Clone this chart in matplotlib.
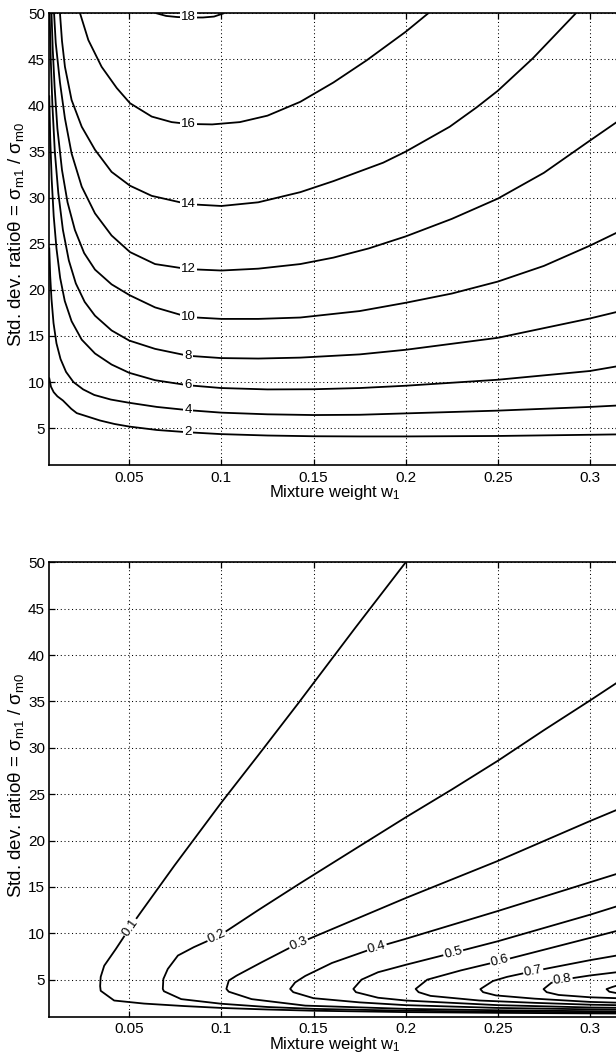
import numpy as np
import matplotlib
matplotlib.use('Agg')
import matplotlib.pyplot as plt

plt.rcParams['font.family'] = ['Liberation Sans', 'DejaVu Sans']
plt.rcParams['mathtext.fontset'] = 'custom'
plt.rcParams['mathtext.rm'] = 'Liberation Sans'
plt.rcParams['mathtext.it'] = 'Liberation Sans:italic'

# ejes
w_min, w_max = 0.0066, 0.3168
theta_min, theta_max = 1, 50
x_ticks = [0.05, 0.1, 0.15, 0.2, 0.25, 0.3]
x_tick_labels = ['0.05', '0.1', '0.15', '0.2', '0.25', '0.3']
y_ticks = [5, 10, 15, 20, 25, 30, 35, 40, 45, 50]
y_tick_labels = ['5', '10', '15', '20', '25', '30', '35', '40', '45', '50']

# grafica superior: curvas de nivel 2..18
top_c2_w = [0.0066, 0.0075, 0.009, 0.011, 0.014, 0.0185, 0.0215, 0.0267, 0.0341, 0.042, 0.05, 0.065, 0.082, 0.1, 0.125, 0.15, 0.175, 0.2, 0.25, 0.3, 0.3145]
top_c2_th = [10.4, 9.5, 8.9, 8.45, 8.0, 7.1, 6.63, 6.3, 5.83, 5.45, 5.17, 4.8, 4.55, 4.35, 4.2, 4.12, 4.1, 4.1, 4.15, 4.28, 4.32]
top_c4_w = [0.0066, 0.0071, 0.0078, 0.0089, 0.0105, 0.0127, 0.0157, 0.0197, 0.025, 0.031, 0.04, 0.05, 0.065, 0.082, 0.1, 0.125, 0.15, 0.175, 0.2, 0.25, 0.3, 0.3145]
top_c4_th = [24.5, 21.5, 19.0, 16.4, 14.2, 12.5, 11.1, 10.0, 9.2, 8.6, 8.1, 7.75, 7.3, 6.95, 6.68, 6.5, 6.42, 6.45, 6.6, 6.9, 7.3, 7.45]
top_c6_w = [0.0066, 0.0071, 0.0079, 0.009, 0.0105, 0.0125, 0.015, 0.0187, 0.0242, 0.0314, 0.0404, 0.05, 0.064, 0.082, 0.1, 0.125, 0.15, 0.175, 0.2, 0.25, 0.3, 0.3145]
top_c6_th = [41.0, 36.5, 32.0, 28.0, 24.5, 21.3, 18.8, 16.6, 14.6, 13.1, 11.9, 11.0, 10.2, 9.65, 9.35, 9.2, 9.22, 9.35, 9.6, 10.25, 11.2, 11.7]
top_c8_w = [0.0068, 0.0074, 0.0083, 0.0096, 0.0115, 0.014, 0.0172, 0.021, 0.0258, 0.0314, 0.0404, 0.05, 0.064, 0.082, 0.1, 0.12, 0.1428, 0.175, 0.2, 0.25, 0.3, 0.3145]
top_c8_th = [50, 45, 40, 35, 30.5, 26.5, 23.2, 20.7, 18.7, 17.2, 15.6, 14.5, 13.6, 12.85, 12.6, 12.55, 12.65, 13.0, 13.5, 14.8, 16.9, 17.6]
top_c10_w = [0.0078, 0.0085, 0.0095, 0.011, 0.0135, 0.0165, 0.0205, 0.0255, 0.0314, 0.0404, 0.0504, 0.064, 0.082, 0.1, 0.12, 0.1428, 0.175, 0.2, 0.225, 0.25, 0.275, 0.3, 0.3145]
top_c10_th = [50, 46, 42, 37.5, 33.0, 29.5, 26.5, 24.0, 22.2, 20.6, 19.4, 18.1, 17.05, 16.85, 16.85, 17.0, 17.7, 18.6, 19.6, 20.9, 22.6, 24.8, 26.2]
top_c12_w = [0.0092, 0.0101, 0.0124, 0.0151, 0.0187, 0.0242, 0.0314, 0.0404, 0.0504, 0.064, 0.082, 0.1, 0.12, 0.1428, 0.1608, 0.18, 0.2, 0.225, 0.25, 0.275, 0.3, 0.3145]
top_c12_th = [50, 46.8, 42.5, 38.6, 34.8, 31.2, 28.3, 25.9, 24.1, 22.8, 22.25, 22.1, 22.3, 22.8, 23.5, 24.5, 25.8, 27.7, 29.9, 32.7, 36.2, 38.2]
top_c14_w = [0.0124, 0.0135, 0.0151, 0.0187, 0.0242, 0.0314, 0.0404, 0.0504, 0.0622, 0.082, 0.1, 0.12, 0.1428, 0.1608, 0.1878, 0.2, 0.2239, 0.2385, 0.25, 0.2689, 0.2923]
top_c14_th = [50, 47.0, 44.2, 40.6, 37.7, 35.2, 32.8, 31.3, 30.2, 29.3, 29.1, 29.5, 30.6, 31.8, 33.8, 35.0, 37.7, 39.8, 41.6, 45.1, 50]
top_c16_w = [0.0233, 0.0278, 0.035, 0.0432, 0.0504, 0.0622, 0.073, 0.082, 0.095, 0.11, 0.125, 0.1428, 0.1608, 0.1788, 0.2, 0.2122]
top_c16_th = [50, 47.1, 44.2, 41.9, 40.25, 38.8, 38.2, 38.0, 37.95, 38.2, 38.9, 40.4, 42.5, 44.9, 48.0, 50]
top_c18_w = [0.0649, 0.07, 0.076, 0.082, 0.09, 0.096, 0.1012]
top_c18_th = [50, 49.72, 49.6, 49.55, 49.55, 49.65, 50]
top_levels = ['2', '4', '6', '8', '10', '12', '14', '16', '18']
top_label_w = 0.082

# grafica inferior: curvas de nivel 0.1..0.9
bot_c1_w = [0.2, 0.1725, 0.1417, 0.12, 0.1, 0.0745, 0.0564, 0.0505, 0.0427, 0.0364, 0.0345, 0.0342, 0.0345, 0.0418, 0.058, 0.08, 0.1, 0.125, 0.15, 0.2, 0.25, 0.3, 0.3145]
bot_c1_th = [50, 42.9, 34.8, 29.2, 24.1, 17.3, 12.3, 10.65, 8.3, 6.5, 5.3, 4.3, 3.8, 2.75, 2.42, 2.15, 1.95, 1.78, 1.65, 1.5, 1.42, 1.36, 1.35]
bot_c2_w = [0.3145, 0.3, 0.275, 0.25, 0.225, 0.2, 0.175, 0.1428, 0.12, 0.099, 0.085, 0.0764, 0.0709, 0.0685, 0.0682, 0.0688, 0.0782, 0.1, 0.125, 0.15, 0.2, 0.25, 0.3, 0.3145]
bot_c2_th = [37.0, 35.1, 31.9, 28.6, 25.5, 22.5, 19.4, 15.4, 12.5, 9.75, 8.5, 7.6, 6.15, 5.07, 4.0, 3.75, 2.9, 2.4, 2.05, 1.85, 1.65, 1.55, 1.48, 1.46]
bot_c3_w = [0.3145, 0.3, 0.25, 0.2, 0.1416, 0.1218, 0.1082, 0.104, 0.1027, 0.104, 0.1164, 0.1455, 0.2, 0.25, 0.3, 0.3145]
bot_c3_th = [23.3, 22.1, 17.8, 13.8, 8.9, 6.87, 5.43, 4.9, 4.0, 3.7, 2.9, 2.2, 1.85, 1.7, 1.6, 1.58]
bot_c4_w = [0.3145, 0.3, 0.25, 0.2, 0.1843, 0.16, 0.1455, 0.14, 0.1373, 0.139, 0.15, 0.175, 0.2, 0.25, 0.3, 0.3145]
bot_c4_th = [16.4, 15.5, 12.4, 9.4, 8.5, 6.8, 5.4, 4.7, 4.0, 3.65, 3.0, 2.55, 2.25, 1.95, 1.8, 1.77]
bot_c5_w = [0.3145, 0.3, 0.25, 0.2258, 0.2, 0.185, 0.176, 0.1716, 0.173, 0.185, 0.2, 0.25, 0.3, 0.3145]
bot_c5_th = [12.9, 12.0, 9.14, 7.9, 6.6, 5.8, 5.0, 4.0, 3.65, 3.05, 2.75, 2.25, 2.0, 1.97]
bot_c6_w = [0.3145, 0.3, 0.251, 0.23, 0.2117, 0.2054, 0.207, 0.2135, 0.24, 0.27, 0.3, 0.3145]
bot_c6_th = [10.25, 9.5, 7.0, 6.0, 5.0, 4.0, 3.65, 3.25, 2.75, 2.5, 2.3, 2.25]
bot_c7_w = [0.3145, 0.3, 0.2689, 0.255, 0.2473, 0.2405, 0.242, 0.249, 0.27, 0.3, 0.3145]
bot_c7_th = [7.6, 7.1, 5.9, 5.3, 4.85, 3.98, 3.65, 3.3, 2.95, 2.6, 2.52]
bot_c8_w = [0.3145, 0.3, 0.2851, 0.279, 0.2748, 0.2765, 0.283, 0.3, 0.3145]
bot_c8_th = [5.8, 5.45, 5.0, 4.65, 3.98, 3.65, 3.35, 3.1, 3.0]
bot_c9_w = [0.3145, 0.312, 0.309, 0.3105, 0.3145]
bot_c9_th = [4.35, 4.2, 3.98, 3.7, 3.55]
bot_levels = ['0.1', '0.2', '0.3', '0.4', '0.5', '0.6', '0.7', '0.8', '0.9']
bot_label_w = [0.0505, 0.0975, 0.1418, 0.1843, 0.2258, 0.2512, 0.2692, 0.2851, None]

x_label = 'Mixture weight w$_{1}$'
y_label = 'Std. dev. ratio\u03b8 = \u03c3$_{\\mathrm{m1}}$ / \u03c3$_{\\mathrm{m0}}$'


def label_line(ax, xs, ys, text, x_lab, follow=True):
    # pone la etiqueta sobre la linea (girada segun la pendiente si follow)
    pts = ax.transData.transform(np.column_stack([xs, ys]))
    for i in range(len(xs) - 1):
        if xs[i] == xs[i + 1]:
            continue
        if (xs[i] - x_lab) * (xs[i + 1] - x_lab) <= 0:
            t = (x_lab - xs[i]) / (xs[i + 1] - xs[i])
            y_lab = ys[i] + t * (ys[i + 1] - ys[i])
            ang = 0
            if follow:
                dx, dy = pts[i + 1] - pts[i]
                ang = np.degrees(np.arctan2(dy, dx))
                if ang > 90:
                    ang -= 180
                if ang < -90:
                    ang += 180
            ax.text(x_lab, y_lab, text, rotation=ang, rotation_mode='anchor',
                    ha='center', va='center', fontsize=9.5, zorder=4,
                    bbox=dict(facecolor='white', edgecolor='none', pad=0.8))
            return


def setup_axes(ax):
    ax.set_xlim(w_min, w_max)
    ax.set_ylim(theta_min, theta_max)
    ax.set_xticks(x_ticks)
    ax.set_xticklabels(x_tick_labels)
    ax.set_yticks(y_ticks)
    ax.set_yticklabels(y_tick_labels)
    ax.tick_params(direction='in', length=4, width=0.9, top=True, right=True,
                   labelsize=11, colors='black')
    ax.tick_params(axis='x', pad=4)
    ax.tick_params(axis='y', pad=3)
    ax.grid(True, color='black', linestyle=(0, (1, 2.6)), linewidth=0.75)
    ax.set_axisbelow(True)
    for s in ax.spines.values():
        s.set_linewidth(1.2)
    ax.set_xlabel(x_label, fontsize=12, labelpad=-1)
    ax.set_ylabel(y_label, fontsize=13.5, va='center')
    ax.yaxis.set_label_coords(-0.058, 0.51)


fig = plt.figure(figsize=(6.16, 10.59), dpi=100)
ax1 = fig.add_axes([0.080, 0.5609, 0.928, 0.4265])
ax2 = fig.add_axes([0.080, 0.0399, 0.928, 0.4291])

setup_axes(ax1)
setup_axes(ax2)

top_lines = [(top_c2_w, top_c2_th), (top_c4_w, top_c4_th), (top_c6_w, top_c6_th),
             (top_c8_w, top_c8_th), (top_c10_w, top_c10_th), (top_c12_w, top_c12_th),
             (top_c14_w, top_c14_th), (top_c16_w, top_c16_th), (top_c18_w, top_c18_th)]
for (xs, ys), lev in zip(top_lines, top_levels):
    ax1.plot(xs, ys, color='black', linewidth=1.3, zorder=3)
    label_line(ax1, xs, ys, lev, top_label_w, follow=False)

bot_lines = [(bot_c1_w, bot_c1_th), (bot_c2_w, bot_c2_th), (bot_c3_w, bot_c3_th),
             (bot_c4_w, bot_c4_th), (bot_c5_w, bot_c5_th), (bot_c6_w, bot_c6_th),
             (bot_c7_w, bot_c7_th), (bot_c8_w, bot_c8_th), (bot_c9_w, bot_c9_th)]
for (xs, ys), lev, xl in zip(bot_lines, bot_levels, bot_label_w):
    ax2.plot(xs, ys, color='black', linewidth=1.3, zorder=3)
    if xl is not None:
        label_line(ax2, xs, ys, lev, xl)

fig.savefig('out.png', dpi=100)
